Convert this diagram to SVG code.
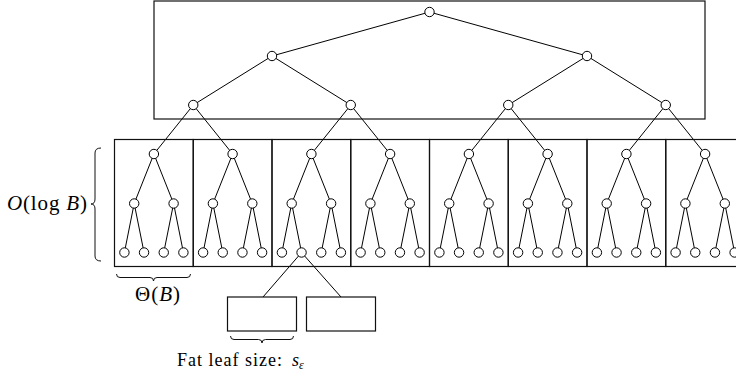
<svg xmlns="http://www.w3.org/2000/svg" xmlns:xlink="http://www.w3.org/1999/xlink" width="736" height="381" viewBox="0 0 736 381">
  <style>
    .edge { stroke: #000; stroke-width: 1; fill: none; }
    .node { stroke: #000; stroke-width: 1; fill: #fff; }
    .block { stroke: #111; stroke-width: 1.2; fill: none; }
    .brace { stroke: #111; stroke-width: 1; fill: none; }
    .label { font-family: "Liberation Serif", "DejaVu Serif", serif; fill: #000; }
    .it { font-style: italic; }
  </style>
  <defs>
    <!-- complete binary subtree of height 2 stored inside one block, centred on x = 0 -->
    <g id="subtree">
      <path class="edge" d="M0,154 L-19.7,203.5 M0,154 L19.7,203.5 M-19.7,203.5 L-29.5,252.5 M-19.7,203.5 L-9.85,252.5 M19.7,203.5 L9.85,252.5 M19.7,203.5 L29.5,252.5"/>
      <circle class="node" cx="0" cy="154" r="4.7"/>
      <circle class="node" cx="-19.7" cy="203.5" r="4.7"/>
      <circle class="node" cx="19.7" cy="203.5" r="4.7"/>
      <circle class="node" cx="-29.5" cy="252.5" r="4.7"/>
      <circle class="node" cx="-9.85" cy="252.5" r="4.7"/>
      <circle class="node" cx="9.85" cy="252.5" r="4.7"/>
      <circle class="node" cx="29.5" cy="252.5" r="4.7"/>
    </g>
  </defs>

  <!-- edges between the top levels and from them into the blocks -->
  <g id="connectors">
    <path class="edge" d="M429.5,12 L272,56 M429.5,12 L587,56
      M272,56 L193.25,105 M272,56 L350.75,105
      M587,56 L508.25,105 M587,56 L665.75,105
      M193.25,105 L153.9,154 M193.25,105 L232.6,154
      M350.75,105 L311.4,154 M350.75,105 L390.1,154
      M508.25,105 L468.9,154 M508.25,105 L547.6,154
      M665.75,105 L626.4,154 M665.75,105 L705.1,154
      M301.55,252.5 L263,297 M301.55,252.5 L341,297"/>
  </g>

  <!-- upper levels of the tree in one block -->
  <g id="top-block">
    <rect class="block" x="154" y="1" width="551" height="118"/>
    <circle class="node" cx="429.5" cy="12" r="4.7"/>
    <circle class="node" cx="272" cy="56" r="4.7"/>
    <circle class="node" cx="587" cy="56" r="4.7"/>
    <circle class="node" cx="193.25" cy="105" r="4.7"/>
    <circle class="node" cx="350.75" cy="105" r="4.7"/>
    <circle class="node" cx="508.25" cy="105" r="4.7"/>
    <circle class="node" cx="665.75" cy="105" r="4.7"/>
  </g>

  <!-- lower blocks, each holding one subtree -->
  <g id="block-0"><rect class="block" x="114.5" y="139.5" width="78.75" height="127"/><use xlink:href="#subtree" href="#subtree" x="153.9"/></g>
  <g id="block-1"><rect class="block" x="193.25" y="139.5" width="78.75" height="127"/><use xlink:href="#subtree" href="#subtree" x="232.6"/></g>
  <g id="block-2"><rect class="block" x="272" y="139.5" width="78.75" height="127"/><use xlink:href="#subtree" href="#subtree" x="311.4"/></g>
  <g id="block-3"><rect class="block" x="350.75" y="139.5" width="78.75" height="127"/><use xlink:href="#subtree" href="#subtree" x="390.1"/></g>
  <g id="block-4"><rect class="block" x="429.5" y="139.5" width="78.75" height="127"/><use xlink:href="#subtree" href="#subtree" x="468.9"/></g>
  <g id="block-5"><rect class="block" x="508.25" y="139.5" width="78.75" height="127"/><use xlink:href="#subtree" href="#subtree" x="547.6"/></g>
  <g id="block-6"><rect class="block" x="587" y="139.5" width="78.75" height="127"/><use xlink:href="#subtree" href="#subtree" x="626.4"/></g>
  <g id="block-7"><rect class="block" x="665.75" y="139.5" width="78.75" height="127"/><use xlink:href="#subtree" href="#subtree" x="705.1"/></g>

  <!-- fat leaves -->
  <g id="fat-leaf-0"><rect class="block" x="227.5" y="297" width="69" height="34"/></g>
  <g id="fat-leaf-1"><rect class="block" x="306.5" y="297" width="69" height="34"/></g>

  <!-- braces and size annotations -->
  <g id="height-brace">
    <path class="brace" d="M101,148 Q95,148 95,153 L95,199 Q95,204 91,204 Q95,204 95,209 L95,256 Q95,261 101,261"/>
    <text class="label" x="7" y="210" font-size="21" textLength="80" lengthAdjust="spacing"><tspan class="it">O</tspan>(log <tspan class="it">B</tspan>)</text>
  </g>
  <g id="width-brace">
    <path class="brace" d="M116.5,274 Q116.5,277.5 120,277.5 L150,277.5 Q153.5,277.5 153.5,281 Q153.5,277.5 157,277.5 L187,277.5 Q190.5,277.5 190.5,274"/>
    <text class="label" x="135" y="301" font-size="21" textLength="45" lengthAdjust="spacing">Θ(<tspan class="it">B</tspan>)</text>
  </g>
  <g id="leaf-brace">
    <path class="brace" d="M230.5,336 Q230.5,339.5 234,339.5 L258.5,339.5 Q262,339.5 262,343 Q262,339.5 265.5,339.5 L290,339.5 Q293.5,339.5 293.5,336"/>
    <text class="label" x="177" y="366" font-size="18" textLength="105" lengthAdjust="spacing">Fat leaf size:</text>
    <text class="label it" x="292" y="366" font-size="18">s<tspan font-size="12" dy="3">ε</tspan></text>
  </g>
</svg>
